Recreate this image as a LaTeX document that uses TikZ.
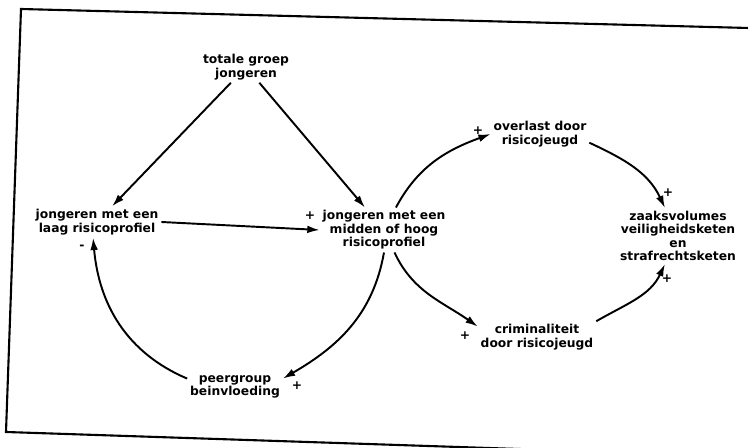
\documentclass[tikz,border=0pt]{standalone}
\usepackage{fontspec}
\setmainfont{DejaVu Sans}
\usetikzlibrary{arrows.meta}

\tikzset{
  var/.style={align=center, inner sep=1.5pt, font=\fontsize{7}{7.7}\selectfont\bfseries},
  sign/.style={inner sep=0pt, font=\fontsize{7}{7.7}\selectfont\bfseries},
  link/.style={->, line width=1.1pt},
}

\begin{document}
\begin{tikzpicture}[x=.02cm,y=.02cm,>={Latex[length=7pt,width=4.4pt]}]
\useasboundingbox (0,0) rectangle (748,-448);
\begin{scope}
\clip (0,0) rectangle (748,-448);
\draw[line width=1.2pt] (760,-28.3) -- (21,-9) -- (6,-432) -- (760,-457);
\end{scope}

% variabelen
\node[var] (totaal) at (246,-67) {totale groep\\jongeren};
\node[var] (laag) at (97,-222) {jongeren met een\\laag risicoprofiel};
\node[var] (midden) at (384,-230) {jongeren met een\\midden of hoog\\risicoprofiel};
\node[var] (overlast) at (540,-134) {overlast door\\risicojeugd};
\node[var] (zaaks) at (678,-236) {zaaksvolumes\\veiligheidsketen\\en\\strafrechtsketen};
\node[var] (crimi) at (537,-337) {criminaliteit\\door risicojeugd};
\node[var] (peer) at (235,-387) {peergroup\\beinvloeding};

% verbanden
\draw[link] (totaal) -- (laag);
\draw[link] (totaal) -- (midden);
\draw[link] (laag.east) -- (midden.west);
\draw[link] (midden) to[out=62,in=200] (overlast.west);
\draw[link] (overlast.-10) to[out=-25,in=115] (zaaks);
\draw[link] (midden.-65) to[out=-65,in=145] (crimi.170);
\draw[link] (crimi.north east) to[out=30,in=-115] (zaaks);
\draw[link] (midden.south) to[out=-100,in=30] (peer.10);
\draw[link] (peer.170) to[out=157,in=-85] (laag.-104);

% polariteit
\node[sign] (s1) at (310,-216) {+};
\node[sign] (s2) at (82,-247) {-};
\node[sign] (s3) at (478,-131) {+};
\node[sign] (s4) at (668,-193) {+};
\node[sign] (s5) at (667,-279) {+};
\node[sign] (s6) at (465,-336) {+};
\node[sign] (s7) at (297,-386) {+};
\end{tikzpicture}
\end{document}
